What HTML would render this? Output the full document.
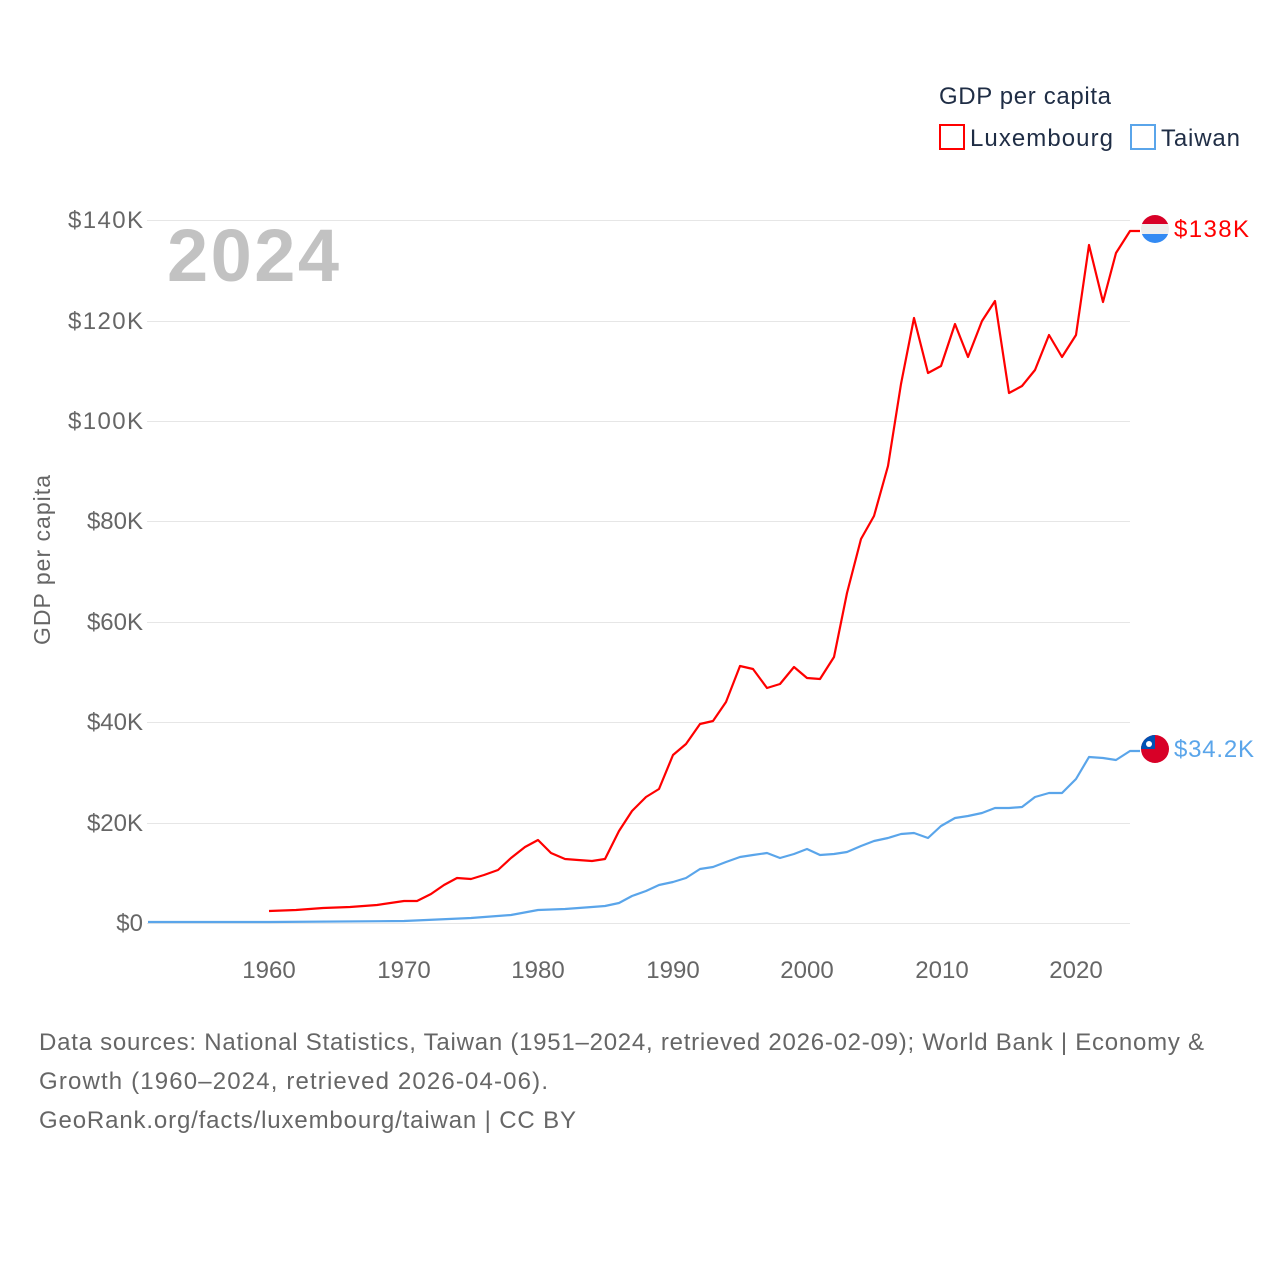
<!DOCTYPE html>
<html><head><meta charset="utf-8"><style>
body{margin:0;background:#fff;width:1280px;height:1280px;overflow:hidden;font-family:"Liberation Sans",sans-serif}
</style></head><body>
<svg width="1280" height="1280" xmlns="http://www.w3.org/2000/svg" font-family="Liberation Sans, sans-serif">
<g stroke="#e6e6e6" stroke-width="1">
<line x1="147" x2="1130" y1="220.5" y2="220.5"/>
<line x1="147" x2="1130" y1="321.5" y2="321.5"/>
<line x1="147" x2="1130" y1="421.5" y2="421.5"/>
<line x1="147" x2="1130" y1="521.5" y2="521.5"/>
<line x1="147" x2="1130" y1="622.5" y2="622.5"/>
<line x1="147" x2="1130" y1="722.5" y2="722.5"/>
<line x1="147" x2="1130" y1="823.5" y2="823.5"/>
<line x1="147" x2="1130" y1="923.5" y2="923.5"/>
</g>
<g fill="#666" font-size="24" text-anchor="end">
<text x="143" y="228" textLength="75">$140K</text>
<text x="143" y="329" textLength="75">$120K</text>
<text x="143" y="429" textLength="75">$100K</text>
<text x="143" y="529">$80K</text>
<text x="143" y="630">$60K</text>
<text x="143" y="730">$40K</text>
<text x="143" y="831">$20K</text>
<text x="143" y="931">$0</text>
</g>
<g fill="#666" font-size="24" text-anchor="middle">
<text x="269" y="978">1960</text>
<text x="404" y="978">1970</text>
<text x="538" y="978">1980</text>
<text x="673" y="978">1990</text>
<text x="807" y="978">2000</text>
<text x="942" y="978">2010</text>
<text x="1076" y="978">2020</text>
</g>
<text transform="translate(50,560) rotate(-90)" fill="#666" font-size="23" text-anchor="middle" textLength="170">GDP per capita</text>
<text x="167" y="281" fill="#c2c2c2" font-size="74" font-weight="bold" textLength="172">2024</text>
<text x="939" y="104" fill="#1f2d45" font-size="24" textLength="172">GDP per capita</text>
<rect x="940" y="125" width="24" height="24" fill="none" stroke="#f00" stroke-width="2"/>
<text x="970" y="146" fill="#1f2d45" font-size="24" textLength="143">Luxembourg</text>
<rect x="1131" y="125" width="24" height="24" fill="none" stroke="#5aa5ea" stroke-width="2"/>
<text x="1161" y="146" fill="#1f2d45" font-size="24" textLength="79">Taiwan</text>
<polyline fill="none" stroke="#5aa5ea" stroke-width="2.2" stroke-linejoin="round" points="148,922 269,922 404,921 471,918 511,915 538,910 565,909 592,907 605,906 619,903 632,896 646,891 659,885 673,882 686,878 700,869 713,867 726,862 740,857 753,855 767,853 780,858 794,854 807,849 820,855 834,854 847,852 861,846 874,841 888,838 901,834 914,833 928,838 941,826 955,818 968,816 982,813 995,808 1009,808 1022,807 1035,797 1049,793 1062,793 1076,779 1089,757 1103,758 1116,760 1130,751 1140,751"/>
<polyline fill="none" stroke="#f00" stroke-width="2.2" stroke-linejoin="round" points="269,911 296,910 323,908 350,907 377,905 404,901 417,901 431,894 444,885 457,878 471,879 484,875 498,870 511,858 525,847 538,840 551,853 565,859 578,860 592,861 605,859 619,831 632,811 646,797 659,789 673,755 686,744 700,724 713,721 726,702 740,666 753,669 767,688 780,684 794,667 807,678 820,679 834,657 847,593 861,539 874,516 888,466 901,384 914,318 928,373 941,366 955,324 968,357 982,321 995,301 1009,393 1022,386 1035,370 1049,335 1062,357 1076,335 1089,245 1103,302 1116,253 1130,231 1140,231"/>
<defs><clipPath id="c1"><circle cx="1155" cy="229" r="14"/></clipPath><clipPath id="c2"><circle cx="1155" cy="749" r="14"/></clipPath></defs>
<g clip-path="url(#c1)"><rect x="1140" y="214" width="30" height="10" fill="#d80027"/><rect x="1140" y="224" width="30" height="10" fill="#eee"/><rect x="1140" y="234" width="30" height="10" fill="#338af3"/></g>
<g clip-path="url(#c2)"><rect x="1140" y="734" width="30" height="30" fill="#d80027"/><rect x="1140" y="734" width="15" height="15" fill="#0052b4"/><circle cx="1149" cy="744" r="3" fill="#fff"/></g>
<text x="1174" y="237" fill="#f00" font-size="24" textLength="75">$138K</text>
<text x="1174" y="757" fill="#5aa5ea" font-size="24" textLength="80">$34.2K</text>
<g fill="#666" font-size="24">
<text x="39" y="1050" textLength="1165">Data sources: National Statistics, Taiwan (1951–2024, retrieved 2026-02-09); World Bank | Economy &amp;</text>
<text x="39" y="1089" textLength="509">Growth (1960–2024, retrieved 2026-04-06).</text>
<text x="39" y="1128" textLength="537">GeoRank.org/facts/luxembourg/taiwan | CC BY</text>
</g>
</svg>
</body></html>
